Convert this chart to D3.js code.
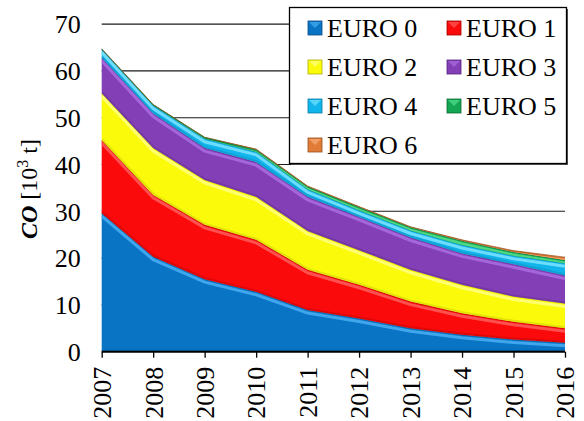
<!DOCTYPE html>
<html><head><meta charset="utf-8">
<script src="https://cdn.jsdelivr.net/npm/d3@7"></script>
<style>
html,body{margin:0;padding:0;background:#fff;}
svg{display:block;}
</style></head>
<body>
<svg id="chart" width="584" height="421" font-family="Liberation Serif"></svg>
<script>
const FONT = "Liberation Serif";
const years = [2007,2008,2009,2010,2011,2012,2013,2014,2015,2016];
const seriesNames = ["EURO 0","EURO 1","EURO 2","EURO 3","EURO 4","EURO 5","EURO 6"];
const euro0 = [29.6,20.3,15.5,12.8,8.9,7.1,5.0,3.6,2.6,1.9];
const euro1 = [15.6,13.2,11.6,11.1,8.6,7.2,5.7,4.6,3.8,3.1];
const euro2 = [10.0,10.0,9.6,9.2,8.3,7.4,6.8,6.1,5.4,5.3];
const euro3 = [7.6,7.4,6.8,7.4,7.3,7.1,6.9,6.7,6.9,6.0];
const euro4 = [1.8,1.7,2.0,2.2,1.6,1.4,1.5,1.8,1.8,2.6];
const euro5 = [0.1,0.2,0.3,0.5,0.6,0.7,0.7,0.9,0.8,0.7];
const euro6 = [0,0,0,0.1,0.1,0.1,0.1,0.2,0.3,0.6];
const yTicks = [0,10,20,30,40,50,60,70];

const colors = ["#0A74C4","#FA0A0A","#FAFA0A","#8340B6","#12B4EC","#14A652","#E07C38"];
const light  = ["#3FA6EE","#FF5050","#FFFF70","#A466DA","#6CDCFF","#4CD884","#F8A870"];
const dark   = ["#064C86","#A00000","#B0B000","#56207E","#0A7AA6","#0A6A32","#9A4E1A"];

const all = [euro0,euro1,euro2,euro3,euro4,euro5,euro6];
const table = years.map((yr,i)=>{const o={year:yr}; seriesNames.forEach((n,k)=>o[n]=all[k][i]); return o;});

const svg = d3.select("#chart");
const x = d3.scaleLinear().domain([2007,2016]).range([101.7,565]);
const y = d3.scaleLinear().domain([0,70]).range([351.7,24.1]);

// gridlines
svg.append("g").selectAll("line").data(yTicks.filter(d=>d>0)).join("line")
  .attr("x1",x(2007)).attr("x2",x(2016))
  .attr("y1",d=>y(d)).attr("y2",d=>y(d))
  .attr("stroke","#1a1a1a").attr("stroke-width",1.1);

const stack = d3.stack().keys(seriesNames)(table);
const area = d3.area().x(d=>x(d.data.year)).y0(d=>y(d[0])).y1(d=>y(d[1]));
const topLine = d3.line().x(d=>x(d.data.year)).y(d=>y(d[1]));
const botLine = d3.line().x(d=>x(d.data.year)).y(d=>y(d[0]));

const defs = svg.append("defs");
const layers = svg.append("g");
stack.forEach((s,k)=>{
  defs.append("clipPath").attr("id","clip"+k).append("path").attr("d",area(s));
  const g = layers.append("g");
  g.append("path").attr("d",area(s)).attr("fill",colors[k]);
  const cg = g.append("g").attr("clip-path","url(#clip"+k+")");
  cg.append("path").attr("d",botLine(s))
    .attr("fill","none").attr("stroke",dark[k]).attr("stroke-opacity",0.3).attr("stroke-width",4);
  cg.append("path").attr("d",topLine(s)).attr("transform","translate(0,3)")
    .attr("fill","none").attr("stroke",light[k]).attr("stroke-width",3);
  g.append("path").attr("d",topLine(s)).attr("fill","none")
    .attr("stroke",dark[k]).attr("stroke-width",0.8).attr("stroke-opacity",0.8);
});

// y axis labels
const yAxis = d3.axisLeft(y).tickValues(yTicks).tickSize(0).tickPadding(21);
const ya = svg.append("g").attr("transform",`translate(${x(2007)},0)`).call(yAxis)
  .attr("font-family",FONT).attr("font-size",26);
ya.select(".domain").remove();
ya.selectAll("text").attr("font-family",FONT).attr("font-size",26).attr("fill","#000").attr("dy","0.34em");

// x axis
const xAxis = d3.axisBottom(x).tickValues(years).tickFormat(d3.format("d")).tickSize(6).tickPadding(0);
const xa = svg.append("g").attr("transform",`translate(0,${y(0)})`).call(xAxis)
  .attr("font-family",FONT).attr("font-size",26);
xa.select(".domain").attr("stroke","#000").attr("stroke-width",2).attr("d",`M${x(2007)},0H${x(2016)}`);
xa.selectAll(".tick line").attr("stroke","#000").attr("stroke-width",1.3);
xa.selectAll("text").attr("font-family",FONT).attr("font-size",26).attr("fill","#000")
  .attr("text-anchor","end").attr("transform","translate(0,15) rotate(-90)").attr("x",0).attr("y",0).attr("dy","0.34em");

// y title
const yt = svg.append("text").attr("transform","translate(37,189) rotate(-90)")
  .attr("text-anchor","middle").attr("font-family",FONT).attr("font-size",24).attr("fill","#000");
yt.append("tspan").attr("font-weight","bold").attr("font-style","italic").text("CO");
yt.append("tspan").text(" [10");
yt.append("tspan").attr("font-size",16).attr("dy","-9").text("3");
yt.append("tspan").attr("dy","9").text(" t]");

// legend
const lg = svg.append("g").attr("font-family",FONT);
lg.append("rect").attr("x",291).attr("y",9).attr("width",277).attr("height",156).attr("fill","#555");
lg.append("rect").attr("x",289.5).attr("y",7.5).attr("width",277).attr("height",156)
  .attr("fill","#fff").attr("stroke","#000").attr("stroke-width",1.3);
const rowY = [28,67,106,145];
const colX = [308,447];
seriesNames.forEach((n,k)=>{
  const cx = colX[k%2], cy = rowY[Math.floor(k/2)];
  const g = lg.append("g");
  g.append("rect").attr("x",cx).attr("y",cy-7).attr("width",14).attr("height",14).attr("fill",colors[k]).attr("stroke",dark[k]).attr("stroke-width",0.8);
  g.append("path").attr("d",`M${cx+1},${cy-6}L${cx+7},${cy}L${cx+13},${cy-6}Z`).attr("fill",light[k]).attr("opacity",0.8);
  g.append("text").attr("x",cx+19).attr("y",cy+9).attr("font-family",FONT).attr("font-size",26).attr("fill","#000").text(n);
});
</script>
</body></html>
